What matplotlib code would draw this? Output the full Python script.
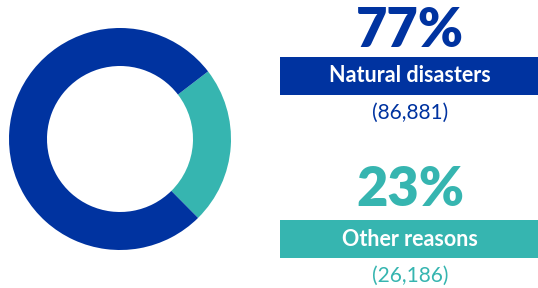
import matplotlib.pyplot as plt
from matplotlib.patches import Rectangle

labels = ['Other reasons', 'Natural disasters']
shares = [23, 77]
counts = ['(26,186)', '(86,881)']
colors = ['#36B5B0', '#0033A0']

W, H = 538, 288
fig = plt.figure(figsize=(W / 100, H / 100), dpi=100)
ax = fig.add_axes([0, 0, 1, 1])
ax.set_xlim(0, W)
ax.set_ylim(0, H)
ax.axis('off')

# donut
ax.pie(shares, colors=colors, startangle=37.5, counterclock=False,
       radius=111, center=(120, H - 139),
       wedgeprops=dict(width=38, linewidth=0))
ax.set_xlim(0, W)
ax.set_ylim(0, H)

# labels on the right, natural disasters on top
blocks = [(1, 31, 76), (0, 190, 239)]  # index, y of big number, y of bar centre
for i, ynum, ybar in blocks:
    cx = 410
    ax.text(cx, H - ynum, f'{shares[i]}%', color=colors[i], fontsize=39,
            fontweight='heavy', family='Lato', ha='center', va='center')
    ax.add_patch(Rectangle((280, H - ybar - 19), 258, 38, color=colors[i], lw=0))
    ax.text(cx, H - ybar, labels[i], color='white', fontsize=15.5,
            fontweight='bold', family='Lato', ha='center', va='center')
    ax.text(cx, H - ybar - 37, counts[i], color=colors[i], fontsize=15,
            family='Lato', ha='center', va='center')

fig.savefig('out.png', dpi=100)
